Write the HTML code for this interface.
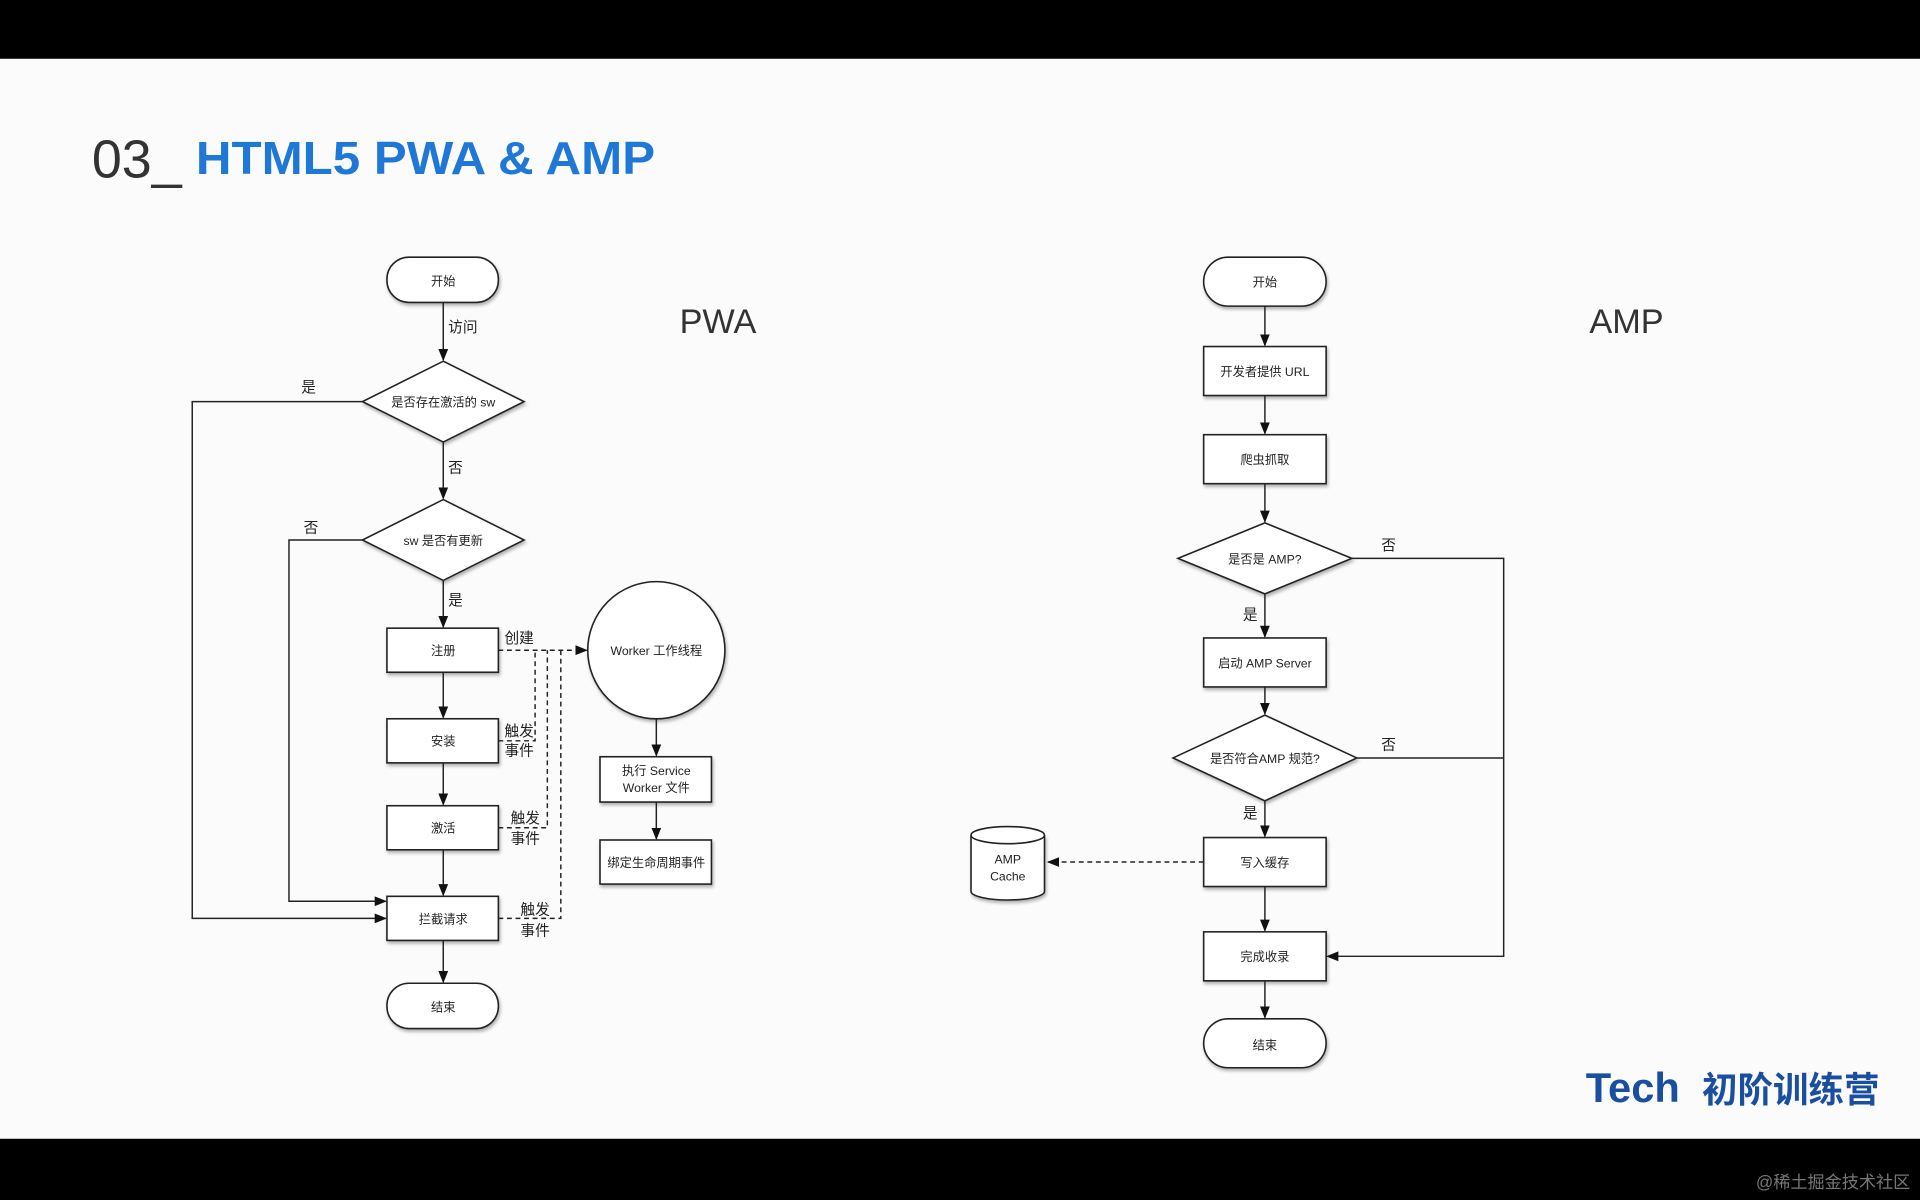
<!DOCTYPE html>
<html><head><meta charset="utf-8"><style>
html,body{margin:0;padding:0;background:#000;}
svg{display:block;}
text{font-family:"Liberation Sans","Noto Sans CJK SC",sans-serif;}
</style></head><body>
<svg width="1920" height="1200" viewBox="0 0 1568 980" xmlns="http://www.w3.org/2000/svg">
<defs>
<marker id="a" markerWidth="10" markerHeight="10" refX="9" refY="5" orient="auto" markerUnits="userSpaceOnUse"><path d="M0,1 L10,5 L0,9 Z" fill="#111"/></marker>
<filter id="sh" x="-10%" y="-10%" width="130%" height="140%"><feDropShadow dx="1" dy="2" stdDeviation="1.2" flood-color="#000" flood-opacity="0.3"/></filter>
</defs>
<rect x="0" y="0" width="1568" height="980" fill="#000"/>
<rect x="0" y="48" width="1568" height="882" fill="#fbfbfb"/>
<text x="75" y="145" font-size="44" fill="#333">03_</text>
<text x="160" y="142" font-size="38" font-weight="bold" fill="#1f78d6" textLength="375" lengthAdjust="spacingAndGlyphs">HTML5 PWA &amp; AMP</text>
<text x="555" y="272" font-size="28" fill="#333">PWA</text>
<text x="1298" y="272" font-size="28" fill="#333">AMP</text>

<g stroke="#222" stroke-width="1.3" fill="#fff">
<rect x="316" y="210" width="91" height="37" rx="18" filter="url(#sh)"/>
<path d="M362,295 L428,328 L362,361 L296,328 Z" filter="url(#sh)"/>
<path d="M362,408 L428,441 L362,474 L296,441 Z" filter="url(#sh)"/>
<rect x="316" y="513" width="91" height="36" filter="url(#sh)"/>
<rect x="316" y="587" width="91" height="36" filter="url(#sh)"/>
<rect x="316" y="658" width="91" height="36" filter="url(#sh)"/>
<rect x="316" y="732" width="91" height="36" filter="url(#sh)"/>
<rect x="316" y="803" width="91" height="37" rx="18" filter="url(#sh)"/>
<circle cx="536" cy="531" r="56" filter="url(#sh)"/>
<rect x="490" y="618" width="91" height="37" filter="url(#sh)"/>
<rect x="490" y="686" width="91" height="36" filter="url(#sh)"/>
<rect x="983" y="210" width="100" height="40" rx="20" filter="url(#sh)"/>
<rect x="983" y="283" width="100" height="40" filter="url(#sh)"/>
<rect x="983" y="355" width="100" height="40" filter="url(#sh)"/>
<path d="M1033,427 L1104,456 L1033,485 L962,456 Z" filter="url(#sh)"/>
<rect x="983" y="521" width="100" height="40" filter="url(#sh)"/>
<path d="M1033,584 L1108,619 L1033,654 L958,619 Z" filter="url(#sh)"/>
<rect x="983" y="684" width="100" height="40" filter="url(#sh)"/>
<rect x="983" y="761" width="100" height="40" filter="url(#sh)"/>
<rect x="983" y="832" width="100" height="40" rx="20" filter="url(#sh)"/>
<path d="M793,682 L793,728 A30,7 0 0 0 853,728 L853,682" filter="url(#sh)"/>
<ellipse cx="823" cy="682" rx="30" ry="7"/>
</g>

<g stroke="#222" stroke-width="1.2" fill="none">
<line x1="362" y1="247" x2="362" y2="294" marker-end="url(#a)"/>
<line x1="362" y1="361" x2="362" y2="407" marker-end="url(#a)"/>
<line x1="362" y1="474" x2="362" y2="512" marker-end="url(#a)"/>
<line x1="362" y1="549" x2="362" y2="586" marker-end="url(#a)"/>
<line x1="362" y1="623" x2="362" y2="657" marker-end="url(#a)"/>
<line x1="362" y1="694" x2="362" y2="731" marker-end="url(#a)"/>
<line x1="362" y1="768" x2="362" y2="802" marker-end="url(#a)"/>
<polyline points="296,328 157,328 157,750 315,750" marker-end="url(#a)"/>
<polyline points="296,441 236,441 236,736 315,736" marker-end="url(#a)"/>
<line x1="536" y1="587" x2="536" y2="617" marker-end="url(#a)"/>
<line x1="536" y1="655" x2="536" y2="685" marker-end="url(#a)"/>
<g stroke-dasharray="4,3">
<line x1="407" y1="531" x2="479" y2="531" marker-end="url(#a)"/>
<polyline points="407,605 437,605 437,531"/>
<polyline points="407,676 447,676 447,531"/>
<polyline points="407,750 458,750 458,531"/>
<line x1="983" y1="704" x2="856" y2="704" marker-end="url(#a)"/>
</g>
<line x1="1033" y1="250" x2="1033" y2="282" marker-end="url(#a)"/>
<line x1="1033" y1="323" x2="1033" y2="354" marker-end="url(#a)"/>
<line x1="1033" y1="395" x2="1033" y2="426" marker-end="url(#a)"/>
<line x1="1033" y1="485" x2="1033" y2="520" marker-end="url(#a)"/>
<line x1="1033" y1="561" x2="1033" y2="583" marker-end="url(#a)"/>
<line x1="1033" y1="654" x2="1033" y2="683" marker-end="url(#a)"/>
<line x1="1033" y1="724" x2="1033" y2="760" marker-end="url(#a)"/>
<line x1="1033" y1="801" x2="1033" y2="831" marker-end="url(#a)"/>
<polyline points="1104,456 1228,456 1228,781 1084,781" marker-end="url(#a)"/>
<line x1="1108" y1="619" x2="1228" y2="619"/>
</g>

<g font-size="10" fill="#222" text-anchor="middle">
<text x="362" y="233">开始</text>
<text x="362" y="332">是否存在激活的 sw</text>
<text x="362" y="445">sw 是否有更新</text>
<text x="362" y="535">注册</text>
<text x="362" y="609">安装</text>
<text x="362" y="680">激活</text>
<text x="362" y="754">拦截请求</text>
<text x="362" y="826">结束</text>
<text x="536" y="535">Worker 工作线程</text>
<text x="536" y="633">执行 Service</text>
<text x="536" y="647">Worker 文件</text>
<text x="536" y="708">绑定生命周期事件</text>
<text x="1033" y="234">开始</text>
<text x="1033" y="307">开发者提供 URL</text>
<text x="1033" y="379">爬虫抓取</text>
<text x="1033" y="460">是否是 AMP?</text>
<text x="1033" y="545">启动 AMP Server</text>
<text x="1033" y="623">是否符合AMP 规范?</text>
<text x="1033" y="708">写入缓存</text>
<text x="1033" y="785">完成收录</text>
<text x="1033" y="857">结束</text>
<text x="823" y="705">AMP</text>
<text x="823" y="719">Cache</text>
</g>
<g font-size="12" fill="#222">
<text x="366" y="271">访问</text>
<text x="246" y="320">是</text>
<text x="366" y="386">否</text>
<text x="248" y="435">否</text>
<text x="366" y="494">是</text>
<text x="412" y="525">创建</text>
<text x="412" y="601">触发</text>
<text x="412" y="617">事件</text>
<text x="417" y="672">触发</text>
<text x="417" y="689">事件</text>
<text x="425" y="747">触发</text>
<text x="425" y="764">事件</text>
<text x="1128" y="449">否</text>
<text x="1015" y="506">是</text>
<text x="1128" y="612">否</text>
<text x="1015" y="668">是</text>
</g>
<text x="1295" y="900" font-size="34" font-weight="bold" fill="#1a4fa0">Tech</text>
<text x="1390" y="900" font-size="29" font-weight="bold" fill="#1a4fa0" font-family="'Noto Sans CJK SC',sans-serif">初阶训练营</text>
<text x="1560" y="970" font-size="14" fill="#777" text-anchor="end">@稀土掘金技术社区</text>
</svg>
</body></html>
